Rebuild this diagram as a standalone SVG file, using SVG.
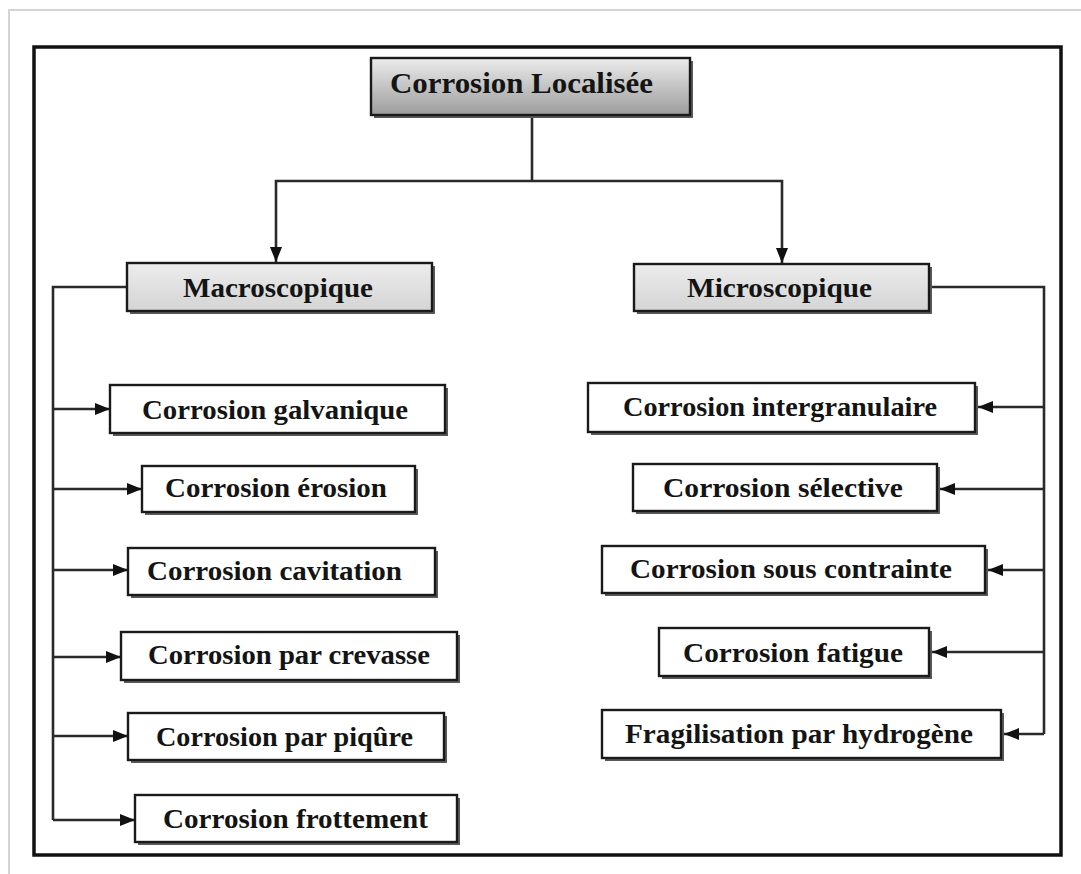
<svg xmlns="http://www.w3.org/2000/svg" width="1081" height="874" viewBox="0 0 1081 874">
<style>
.bg{fill:#ffffff}
.page{fill:none;stroke:#d4d4d4;stroke-width:2}
.frame{fill:none;stroke:#111;stroke-width:3.5}
.sh{fill:#5a5a5a}
.box{fill:#ffffff;stroke:#1a1a1a;stroke-width:2.4}
.gbox{fill:url(#lg);stroke:#1a1a1a;stroke-width:2.4}
.tbox{fill:url(#tg);stroke:#1a1a1a;stroke-width:2.4}
.lbl{font-family:"Liberation Serif","Times New Roman",serif;font-weight:bold;font-size:27px;fill:#141414;text-anchor:middle}
.ttl{font-size:29px}
.con{fill:none;stroke:#2a2a2a;stroke-width:2.6}
</style>
<defs>
<linearGradient id="tg" x1="0" y1="0" x2="0" y2="1">
<stop offset="0" stop-color="#ececec"/>
<stop offset="1" stop-color="#9c9c9c"/>
</linearGradient>
<linearGradient id="lg" x1="0" y1="0" x2="0" y2="1">
<stop offset="0" stop-color="#ececec"/>
<stop offset="1" stop-color="#d4d4d4"/>
</linearGradient>
<marker id="ah" viewBox="0 0 15 12" refX="15" refY="6" markerWidth="15" markerHeight="12" markerUnits="userSpaceOnUse" orient="auto">
<path d="M0,0 L15,6 L0,12 Z" fill="#111"/>
</marker>
</defs>
<rect class="bg" x="0" y="0" width="1081" height="874"/>
<rect class="page" x="9" y="10" width="1100" height="900"/>
<rect class="frame" x="34" y="47" width="1027" height="808"/>

<g id="connectors">
<path class="con" d="M532,115 V181"/>
<path class="con" d="M532,181 H276 V262" marker-end="url(#ah)"/>
<path class="con" d="M532,181 H782 V263" marker-end="url(#ah)"/>
<path class="con" d="M127,287 H53 V820"/>
<path class="con" d="M53,409 H110" marker-end="url(#ah)"/>
<path class="con" d="M53,489 H142" marker-end="url(#ah)"/>
<path class="con" d="M53,570 H128" marker-end="url(#ah)"/>
<path class="con" d="M53,657 H121" marker-end="url(#ah)"/>
<path class="con" d="M53,736 H128" marker-end="url(#ah)"/>
<path class="con" d="M53,820 H135" marker-end="url(#ah)"/>
<path class="con" d="M929,287 H1044 V734"/>
<path class="con" d="M1044,407 H978" marker-end="url(#ah)"/>
<path class="con" d="M1044,489 H940" marker-end="url(#ah)"/>
<path class="con" d="M1044,570 H988" marker-end="url(#ah)"/>
<path class="con" d="M1044,652 H932" marker-end="url(#ah)"/>
<path class="con" d="M1044,734 H1004" marker-end="url(#ah)"/>
</g>

<g id="n-top">
<rect class="sh" x="374" y="61" width="319" height="57"/>
<rect class="tbox" x="371" y="58" width="319" height="57"/>
<text class="lbl ttl" x="521.5" y="93" textLength="263" lengthAdjust="spacingAndGlyphs">Corrosion Localisée</text>
</g>
<g id="n-macro">
<rect class="sh" x="130" y="266" width="305" height="48"/>
<rect class="gbox" x="127" y="263" width="305" height="48"/>
<text class="lbl" x="278" y="297" textLength="190" lengthAdjust="spacingAndGlyphs">Macroscopique</text>
</g>
<g id="n-micro">
<rect class="sh" x="637" y="267" width="295" height="47"/>
<rect class="gbox" x="634" y="264" width="295" height="47"/>
<text class="lbl" x="779.5" y="297" textLength="185" lengthAdjust="spacingAndGlyphs">Microscopique</text>
</g>

<g id="n-galvanique">
<rect class="sh" x="113" y="388" width="335" height="48"/>
<rect class="box" x="110" y="385" width="335" height="48"/>
<text class="lbl" x="275" y="419" textLength="266" lengthAdjust="spacingAndGlyphs">Corrosion galvanique</text>
</g>
<g id="n-erosion">
<rect class="sh" x="145" y="469" width="273" height="46"/>
<rect class="box" x="142" y="466" width="273" height="46"/>
<text class="lbl" x="276" y="497" textLength="222" lengthAdjust="spacingAndGlyphs">Corrosion érosion</text>
</g>
<g id="n-cavitation">
<rect class="sh" x="131" y="551" width="307" height="47"/>
<rect class="box" x="128" y="548" width="307" height="47"/>
<text class="lbl" x="274.5" y="580" textLength="255" lengthAdjust="spacingAndGlyphs">Corrosion cavitation</text>
</g>
<g id="n-crevasse">
<rect class="sh" x="124" y="635" width="336" height="48"/>
<rect class="box" x="121" y="632" width="336" height="48"/>
<text class="lbl" x="289" y="664" textLength="282" lengthAdjust="spacingAndGlyphs">Corrosion par crevasse</text>
</g>
<g id="n-piqure">
<rect class="sh" x="131" y="716" width="316" height="47"/>
<rect class="box" x="128" y="713" width="316" height="47"/>
<text class="lbl" x="284.5" y="746" textLength="257" lengthAdjust="spacingAndGlyphs">Corrosion par piqûre</text>
</g>
<g id="n-frottement">
<rect class="sh" x="138" y="798" width="322" height="47"/>
<rect class="box" x="135" y="795" width="322" height="47"/>
<text class="lbl" x="295.5" y="828" textLength="265" lengthAdjust="spacingAndGlyphs">Corrosion frottement</text>
</g>

<g id="n-intergranulaire">
<rect class="sh" x="591" y="386" width="387" height="49"/>
<rect class="box" x="588" y="383" width="387" height="49"/>
<text class="lbl" x="780" y="416" textLength="314" lengthAdjust="spacingAndGlyphs">Corrosion intergranulaire</text>
</g>
<g id="n-selective">
<rect class="sh" x="636" y="467" width="304" height="47"/>
<rect class="box" x="633" y="464" width="304" height="47"/>
<text class="lbl" x="783" y="497" textLength="240" lengthAdjust="spacingAndGlyphs">Corrosion sélective</text>
</g>
<g id="n-contrainte">
<rect class="sh" x="605" y="549" width="383" height="47"/>
<rect class="box" x="602" y="546" width="383" height="47"/>
<text class="lbl" x="791" y="578" textLength="322" lengthAdjust="spacingAndGlyphs">Corrosion sous contrainte</text>
</g>
<g id="n-fatigue">
<rect class="sh" x="662" y="631" width="270" height="48"/>
<rect class="box" x="659" y="628" width="270" height="48"/>
<text class="lbl" x="793" y="662" textLength="220" lengthAdjust="spacingAndGlyphs">Corrosion fatigue</text>
</g>
<g id="n-hydrogene">
<rect class="sh" x="605" y="713" width="399" height="48"/>
<rect class="box" x="602" y="710" width="399" height="48"/>
<text class="lbl" x="799" y="743" textLength="348" lengthAdjust="spacingAndGlyphs">Fragilisation par hydrogène</text>
</g>
</svg>
